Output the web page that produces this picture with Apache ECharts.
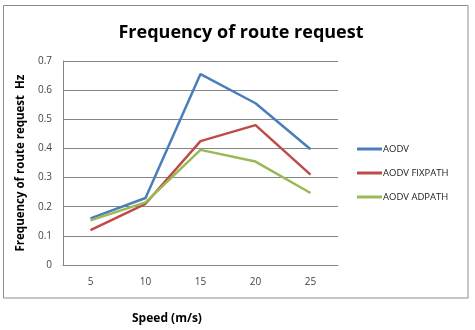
<!DOCTYPE html>
<html>
<head>
<meta charset="utf-8">
<script src="https://cdn.jsdelivr.net/npm/echarts@6/dist/echarts.min.js"></script>
<style>
  html, body { margin: 0; padding: 0; background: #fff; }
  #chart { width: 475px; height: 330px; }
</style>
</head>
<body>
<div id="chart"></div>
<script>
// 速度（m/s）
const speeds = ['5', '10', '15', '20', '25']
// 各协议的路由请求频率（Hz）
const aodv = [0.16, 0.23, 0.655, 0.555, 0.397]
const aodvFixpath = [0.12, 0.21, 0.425, 0.48, 0.31]
const aodvAdpath = [0.153, 0.215, 0.395, 0.355, 0.247]
const yTicks = [0, 0.1, 0.2, 0.3, 0.4, 0.5, 0.6, 0.7]

const chart = echarts.init(document.getElementById('chart'))
const fontFam = '"Open Sans", "DejaVu Sans", sans-serif'

const option = {
  backgroundColor: '#fff',
  animation: false,
  title: {
    text: 'Frequency of route request',
    left: 236,
    top: 19,
    textAlign: 'center',
    textStyle: { fontFamily: fontFam, fontSize: 18, fontWeight: 'bold', color: '#000' },
  },
  legend: {
    orient: 'vertical',
    left: 352,
    top: 139,
    itemWidth: 25,
    itemHeight: 3,
    itemGap: 14,
    icon: 'rect',
    textStyle: { fontFamily: fontFam, fontSize: 9.5, color: '#222', padding: [0, 0, 0, -4] },
    data: ['AODV', 'AODV FIXPATH', 'AODV ADPATH'],
  },
  grid: { left: 63, right: 137, top: 61, bottom: 65 },
  xAxis: {
    type: 'category',
    data: speeds,
    boundaryGap: true,
    axisLine: { lineStyle: { color: '#868686' } },
    axisTick: { show: false },
    axisLabel: { fontFamily: fontFam, fontSize: 10, color: '#444', margin: 12 },
  },
  yAxis: {
    type: 'value',
    min: 0,
    max: 0.7,
    interval: 0.1,
    name: 'Frequency of route request  Hz',
    nameLocation: 'middle',
    nameGap: 30,
    nameTextStyle: { fontFamily: fontFam, fontSize: 11.5, fontWeight: 'bold', color: '#000' },
    axisLine: { show: true, lineStyle: { color: '#868686' } },
    axisTick: { show: false },
    splitLine: { lineStyle: { color: '#868686' } },
    axisLabel: {
      fontFamily: fontFam, fontSize: 10, color: '#444', margin: 11,
      formatter: v => String(yTicks.find(t => Math.abs(t - v) < 1e-9) ?? v),
    },
  },
  graphic: [
    {
      type: 'rect',
      shape: { x: 3.5, y: 5.5, width: 464.5, height: 292.5 },
      style: { fill: 'none', stroke: '#8c8c8c', lineWidth: 1 },
      silent: true,
    },
    {
      type: 'text',
      left: 132,
      top: 313,
      style: { text: 'Speed (m/s)', fontFamily: fontFam, fontSize: 12, fontWeight: 'bold', fill: '#000' },
    },
  ],
  series: [
    {
      name: 'AODV',
      type: 'line',
      data: aodv,
      symbol: 'none',
      itemStyle: { color: '#4A7EBB' },
      lineStyle: { width: 2.5, color: '#4A7EBB' },
    },
    {
      name: 'AODV FIXPATH',
      type: 'line',
      data: aodvFixpath,
      symbol: 'none',
      itemStyle: { color: '#BE4B48' },
      lineStyle: { width: 2.5, color: '#BE4B48' },
    },
    {
      name: 'AODV ADPATH',
      type: 'line',
      data: aodvAdpath,
      symbol: 'none',
      itemStyle: { color: '#98B954' },
      lineStyle: { width: 2.5, color: '#98B954' },
    },
  ],
}
chart.setOption(option)
</script>
</body>
</html>
